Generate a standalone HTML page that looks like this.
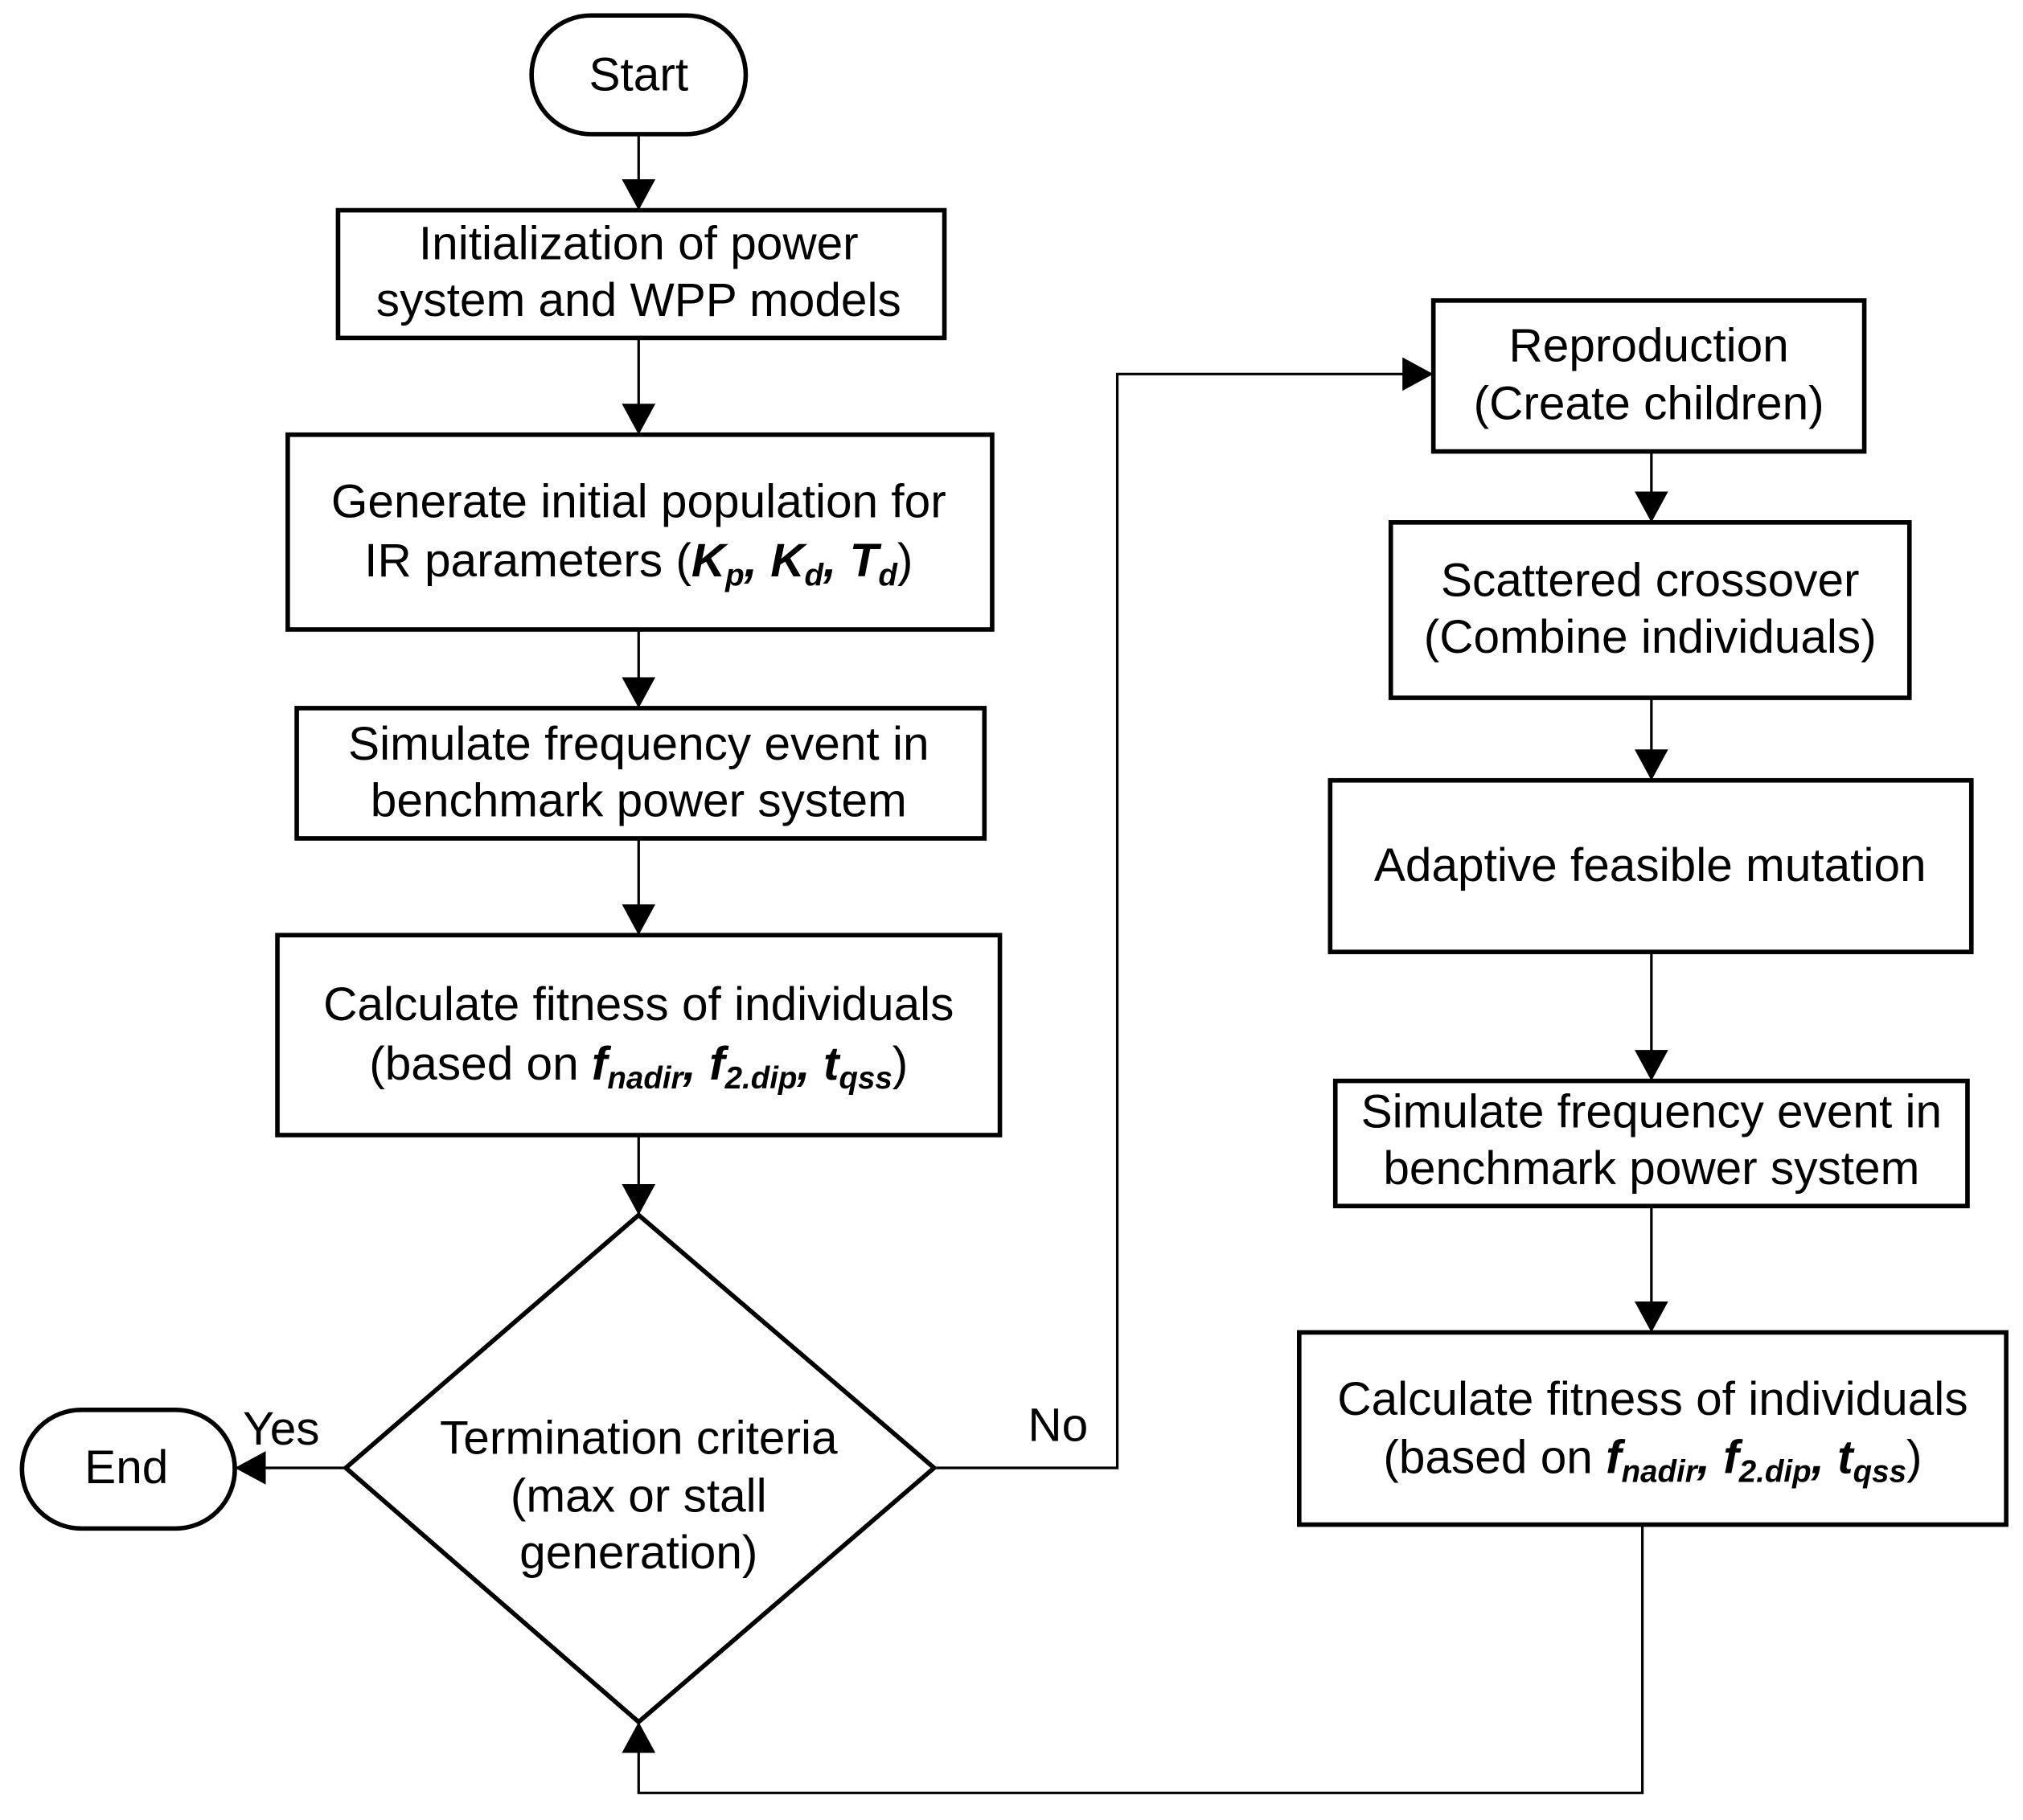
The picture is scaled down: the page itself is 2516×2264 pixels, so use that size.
<!DOCTYPE html>
<html><head><style>html,body{margin:0;padding:0;background:#fff}svg{display:block}</style></head>
<body>
<svg width="2516" height="2264" viewBox="0 0 1568 1411" xmlns="http://www.w3.org/2000/svg" font-family="Liberation Sans, sans-serif" font-size="36.5">
<defs>
<marker id="b" markerWidth="24" markerHeight="26" refX="24" refY="13" orient="auto" markerUnits="userSpaceOnUse" viewBox="0 0 24 26"><path d="M0,0 L24,13 L0,26 z" fill="#000"/></marker></defs>
<g fill="#fff" stroke="#000" stroke-width="3.5">
<rect x="412" y="12" width="166" height="92" rx="46"/>
<rect x="262" y="163" width="470" height="99"/>
<rect x="223" y="337" width="546" height="151"/>
<rect x="230" y="549" width="533" height="101"/>
<rect x="215" y="725" width="560" height="155"/>
<polygon points="495,942 724,1138 495,1335 268,1138"/>
<rect x="17" y="1093" width="165" height="92" rx="46"/>
<rect x="1111" y="233" width="334" height="117"/>
<rect x="1078" y="405" width="402" height="136"/>
<rect x="1031" y="605" width="497" height="133"/>
<rect x="1035" y="838" width="490" height="97"/>
<rect x="1007" y="1033" width="548" height="149"/>
</g>
<g fill="none" stroke="#000" stroke-width="2" marker-end="url(#b)">
<path d="M495,104 V163"/><path d="M495,262 V337"/><path d="M495,488 V549"/><path d="M495,650 V725"/><path d="M495,880 V942"/>
<path d="M268,1138 H182"/>
<path d="M724,1138 H866 V290 H1111"/>
<path d="M1280,350 V405"/><path d="M1280,541 V605"/><path d="M1280,738 V838"/><path d="M1280,935 V1033"/>
<path d="M1273,1182 V1390 H495 V1335"/>
</g>
<g text-anchor="middle" fill="#000">
<text x="495" y="70">Start</text>
<text x="495" y="201">Initialization of power</text>
<text x="495" y="245">system and WPP models</text>
<text x="495" y="401">Generate initial population for</text>
<text x="495" y="447">IR parameters (<tspan font-weight="bold" font-style="italic">K<tspan font-size="24" dy="7">p</tspan><tspan dy="-7">, K</tspan><tspan font-size="24" dy="7">d</tspan><tspan dy="-7">, T</tspan><tspan font-size="24" dy="7">d</tspan></tspan><tspan dy="-7">)</tspan></text>
<text x="495" y="589">Simulate frequency event in</text>
<text x="495" y="633">benchmark power system</text>
<text x="495" y="791">Calculate fitness of individuals</text>
<text x="495" y="837">(based on <tspan font-weight="bold" font-style="italic">f<tspan font-size="24" dy="7">nadir</tspan><tspan dy="-7">, f</tspan><tspan font-size="24" dy="7">2.dip</tspan><tspan dy="-7">, t</tspan><tspan font-size="24" dy="7">qss</tspan></tspan><tspan dy="-7">)</tspan></text>
<text x="495" y="1127">Termination criteria</text>
<text x="495" y="1172">(max or stall</text>
<text x="495" y="1216">generation)</text>
<text x="98" y="1150">End</text>
<text x="218" y="1120">Yes</text>
<text x="820" y="1117">No</text>
<text x="1278" y="280">Reproduction</text>
<text x="1278" y="325">(Create children)</text>
<text x="1279" y="462">Scattered crossover</text>
<text x="1279" y="506">(Combine individuals)</text>
<text x="1279" y="683">Adaptive feasible mutation</text>
<text x="1280" y="874">Simulate frequency event in</text>
<text x="1280" y="918">benchmark power system</text>
<text x="1281" y="1097">Calculate fitness of individuals</text>
<text x="1281" y="1142">(based on <tspan font-weight="bold" font-style="italic">f<tspan font-size="24" dy="7">nadir</tspan><tspan dy="-7">, f</tspan><tspan font-size="24" dy="7">2.dip</tspan><tspan dy="-7">, t</tspan><tspan font-size="24" dy="7">qss</tspan></tspan><tspan dy="-7">)</tspan></text>
</g>
</svg>
</body></html>
